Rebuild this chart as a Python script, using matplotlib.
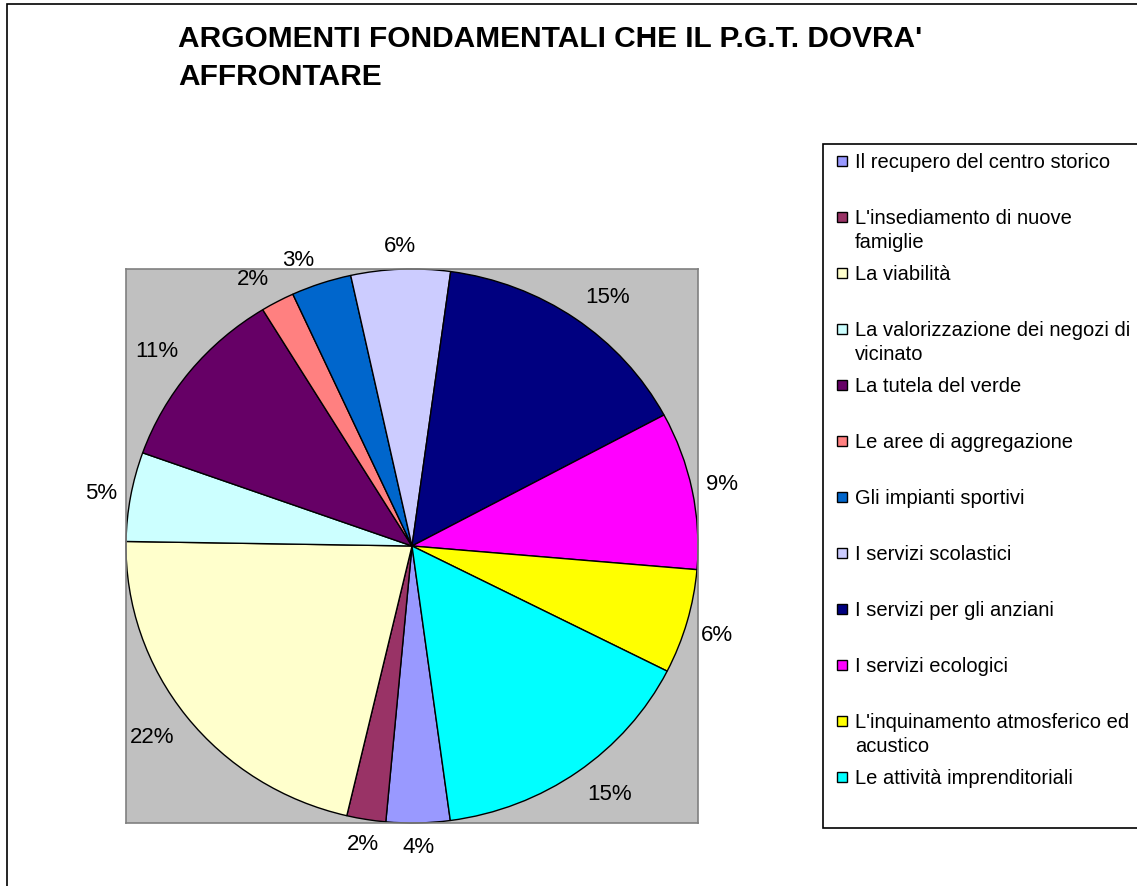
import textwrap
import numpy as np
import matplotlib
matplotlib.use("Agg")
import matplotlib.pyplot as plt
from matplotlib.patches import Rectangle
from matplotlib.transforms import offset_copy

plt.rcParams['font.family'] = ['Liberation Sans', 'DejaVu Sans']

title = "ARGOMENTI FONDAMENTALI CHE IL P.G.T. DOVRA'\nAFFRONTARE"
categories = [
    "Il recupero del centro storico",
    "L'insediamento di nuove famiglie",
    "La viabilità",
    "La valorizzazione dei negozi di vicinato",
    "La tutela del verde",
    "Le aree di aggregazione",
    "Gli impianti sportivi",
    "I servizi scolastici",
    "I servizi per gli anziani",
    "I servizi ecologici",
    "L'inquinamento atmosferico ed acustico",
    "Le attività imprenditoriali",
]
values = [3.6, 2.2, 21.6, 5.2, 10.8, 1.9, 3.4, 5.6, 15.0, 9.2, 6.1, 15.4]
colors = ["#9999FF", "#993366", "#FFFFCC", "#CCFFFF", "#660066", "#FF8080",
          "#0066CC", "#CCCCFF", "#000080", "#FF00FF", "#FFFF00", "#00FFFF"]

W, H = 1137, 887
fig = plt.figure(figsize=(W / 100, H / 100), dpi=100)
fig.patch.set_facecolor("white")

def fx(x):
    return x / W

def fy(y):
    return 1 - y / H

# outer chart frame
fig.patches.append(Rectangle((fx(7), fy(900)), fx(1200), fy(5) - fy(900),
                             transform=fig.transFigure, fill=False,
                             edgecolor="black", linewidth=1.2))

# plot area
ax = fig.add_axes([fx(126), fy(824), fx(698) - fx(126), fy(270) - fy(824)])
ax.set_facecolor("#C0C0C0")
wedges, texts, autotexts = ax.pie(
    values, colors=colors, startangle=-82.3, counterclock=False,
    autopct="%.0f%%", pctdistance=1.12, radius=1.0,
    wedgeprops=dict(edgecolor="black", linewidth=1.0),
    textprops=dict(fontsize=16, color="black"), frame=True)
ax.set_aspect("auto")
ax.set_xlim(-1, 1)
ax.set_ylim(-1, 1)
ax.set_xticks([])
ax.set_yticks([])
for s in ax.spines.values():
    s.set_edgecolor("#808080")
    s.set_linewidth(1.2)

# place the data labels outside the pie like the spreadsheet does
renderer = fig.canvas.get_renderer()
gap, padx, hy = 10.0, 4.0, 14.0


def side(v):
    return np.sign(v) * np.clip((abs(v) - 0.15) * 6, 0, 1)


for wdg, t in zip(wedges, autotexts):
    phi = np.deg2rad((wdg.theta1 + wdg.theta2) / 2)
    ux, uy = np.cos(phi), np.sin(phi)
    bb = t.get_window_extent(renderer)
    dx = ux * gap + side(ux) * (bb.width / 2 + padx)
    dy = uy * gap + side(uy) * hy
    t.set_position((ux, uy))
    t.set_transform(offset_copy(ax.transData, fig=fig, x=dx, y=dy, units="dots"))
    t.set_ha("center")
    t.set_va("center")

# title
fig.text(fx(178), fy(25), title, fontsize=21.5, fontweight="bold",
         ha="left", va="top", linespacing=1.45)

# legend box
fig.patches.append(Rectangle((fx(823), fy(829)), fx(400), fy(145) - fy(829),
                             transform=fig.transFigure, facecolor="white",
                             edgecolor="black", linewidth=1.2))
y0 = 162
step = 56.0
for i, (cat, col) in enumerate(zip(categories, colors)):
    yc = y0 + i * step
    fig.patches.append(Rectangle((fx(837), fy(yc + 5)), fx(10), fy(yc - 5) - fy(yc + 5),
                                 transform=fig.transFigure, facecolor=col,
                                 edgecolor="black", linewidth=1.0))
    fig.text(fx(855), fy(yc - 9), textwrap.fill(cat, 31), fontsize=14.5,
             ha="left", va="top", linespacing=1.3)

fig.savefig("out.png", dpi=100)
